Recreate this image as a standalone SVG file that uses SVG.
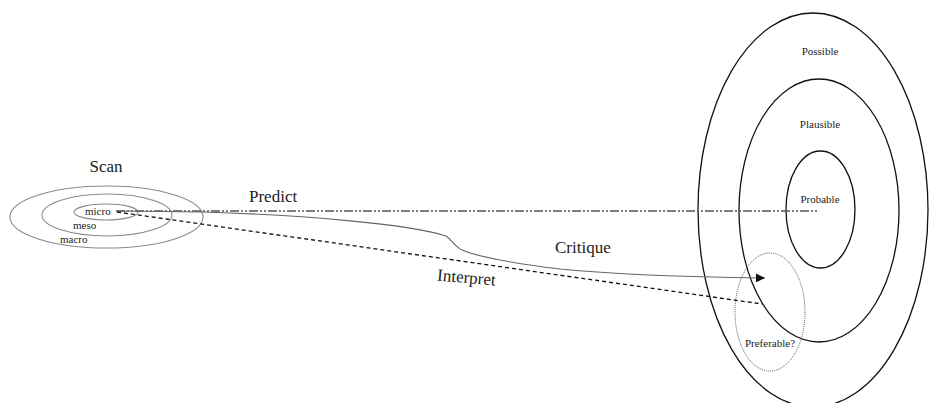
<svg xmlns="http://www.w3.org/2000/svg" width="930" height="403" viewBox="0 0 930 403">
<defs>
<style>
.lbl{font-family:"Liberation Serif","Times New Roman",serif;fill:#222}
.big{font-size:17px}
.sm{font-size:11px}
.scan{fill:none;stroke:#8a8a8a;stroke-width:1.1}
.fut{fill:none;stroke:#111;stroke-width:1.3}
</style>
<marker id="ah" viewBox="0 0 10 10" refX="10" refY="5" markerWidth="9" markerHeight="9" markerUnits="userSpaceOnUse" orient="auto">
<path d="M0,0 L10,5 L0,10 z" fill="#111"/>
</marker>
</defs>
<rect width="930" height="403" fill="#fff"/>
<g id="scan">
<ellipse class="scan" cx="106.5" cy="217" rx="96.5" ry="31"/>
<ellipse class="scan" cx="107" cy="215" rx="65" ry="21"/>
<ellipse class="scan" cx="106" cy="212" rx="32" ry="8"/>
<text class="lbl big" x="106" y="172" text-anchor="middle">Scan</text>
<text class="lbl sm" x="85" y="215">micro</text>
<text class="lbl sm" x="73" y="229">meso</text>
<text class="lbl sm" x="60" y="243">macro</text>
</g>
<g id="possible">
<ellipse class="fut" cx="813" cy="210" rx="115" ry="197"/>
<text class="lbl sm" x="820" y="55" text-anchor="middle">Possible</text>
</g>
<g id="plausible">
<ellipse class="fut" cx="819" cy="210.5" rx="80" ry="131.5"/>
<text class="lbl sm" x="820" y="128" text-anchor="middle">Plausible</text>
</g>
<g id="probable">
<ellipse class="fut" cx="820.5" cy="209.5" rx="34.5" ry="58.5"/>
<text class="lbl sm" x="820" y="203" text-anchor="middle">Probable</text>
</g>
<g id="preferable">
<ellipse cx="770" cy="312" rx="35" ry="59" fill="none" stroke="#555" stroke-width="1" stroke-dasharray="1 1"/>
<text class="lbl sm" x="770" y="347" text-anchor="middle">Preferable?</text>
</g>
<g id="connectors">
<path d="M116,211 L817,211" fill="none" stroke="#555" stroke-width="1.5" stroke-dasharray="9 2 2 2 2 2"/>
<path d="M117,212 L762,304" fill="none" stroke="#111" stroke-width="1.3" stroke-dasharray="4 3"/>
<path d="M120,211 L203,212 C300,215 410,224 446,236 C452,240 454,246 462,250 C480,258 520,264 560,269 C620,275 680,277 765,278" fill="none" stroke="#666" stroke-width="1.1" marker-end="url(#ah)"/>
<text class="lbl big" x="249" y="202">Predict</text>
<text class="lbl big" x="555" y="253">Critique</text>
<text class="lbl big" x="466" y="283" text-anchor="middle" transform="rotate(5 466 283)">Interpret</text>
</g>
</svg>
